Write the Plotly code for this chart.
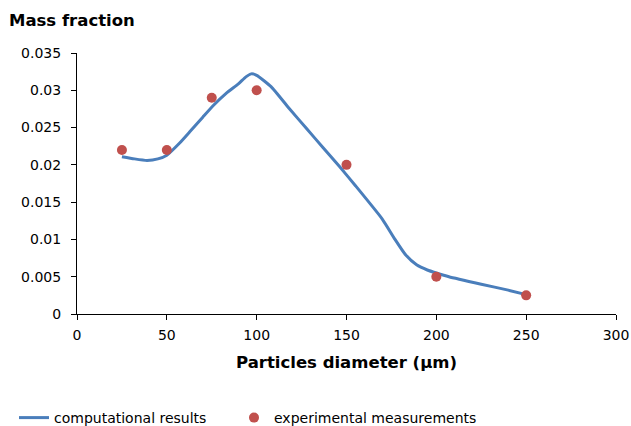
import plotly.graph_objects as go

# Computational results (curve)
comp_x = [25, 32, 39, 45, 50, 57, 63, 70, 76, 83, 90, 94, 97, 100, 108, 118, 128,
          137, 146, 155, 170, 177, 183, 189, 195, 200, 207, 225, 240, 250]
comp_y = [0.0211, 0.0208, 0.0206, 0.0208, 0.0213, 0.0229, 0.0245, 0.0264, 0.0280, 0.0296,
          0.0309, 0.0318, 0.0322, 0.0320, 0.0305, 0.0276, 0.0248,
          0.0223, 0.0198, 0.0172, 0.0127, 0.0100, 0.0079, 0.0066, 0.0059,
          0.0055, 0.0050, 0.0040, 0.0032, 0.0026]

# Experimental measurements
exp_x = [25, 50, 75, 100, 150, 200, 250]
exp_y = [0.022, 0.022, 0.029, 0.030, 0.020, 0.005, 0.0025]

x_ticks = [0, 50, 100, 150, 200, 250, 300]
y_ticks = [0, 0.005, 0.01, 0.015, 0.02, 0.025, 0.03, 0.035]
y_tick_labels = ["0", "0.005", "0.01", "0.015", "0.02", "0.025", "0.03", "0.035"]

FONT = "DejaVu Sans"

fig = go.Figure()
fig.add_trace(go.Scatter(
    x=comp_x, y=comp_y, mode="lines", name="computational results",
    line=dict(color="#4A7EBB", width=3, shape="spline", smoothing=0.5),
    legend="legend",
))
fig.add_trace(go.Scatter(
    x=exp_x, y=exp_y, mode="markers", name="experimental measurements",
    marker=dict(color="#C0504D", size=10),
    legend="legend2",
))

leg_common = dict(
    orientation="h", xref="container", yref="container",
    y=(426 - 418) / 426, xanchor="left", yanchor="middle",
    font=dict(family=FONT, size=14, color="black"),
    bgcolor="rgba(0,0,0,0)",
)

fig.update_layout(
    width=631, height=426,
    margin=dict(l=77, r=15, t=53, b=112, autoexpand=False),
    paper_bgcolor="white", plot_bgcolor="white",
    font=dict(family=FONT, size=14, color="black"),
    showlegend=True,
    legend=dict(x=14 / 631, **leg_common),
    legend2=dict(x=234 / 631, **leg_common),
    xaxis=dict(
        range=[0, 300], tickvals=x_ticks, showgrid=False, zeroline=False,
        showline=True, linecolor="black", linewidth=1, automargin=False,
        ticks="outside", ticklen=5, tickcolor="black", ticklabelstandoff=3,
        title=dict(text="<b>Particles diameter (µm)</b>", font=dict(size=16.5), standoff=14),
    ),
    yaxis=dict(
        range=[0, 0.035], tickvals=y_ticks, ticktext=y_tick_labels, showgrid=False,
        zeroline=False, showline=True, linecolor="black", linewidth=1, automargin=False,
        ticks="outside", ticklen=5, tickcolor="black", ticklabelstandoff=7,
    ),
    annotations=[dict(
        text="<b>Mass fraction</b>", xref="paper", yref="paper",
        x=-70 / 539, y=1 + 33 / 261, xanchor="left", yanchor="middle",
        showarrow=False, font=dict(family=FONT, size=16.5, color="black"),
    )],
)

fig.write_html("out.html")
